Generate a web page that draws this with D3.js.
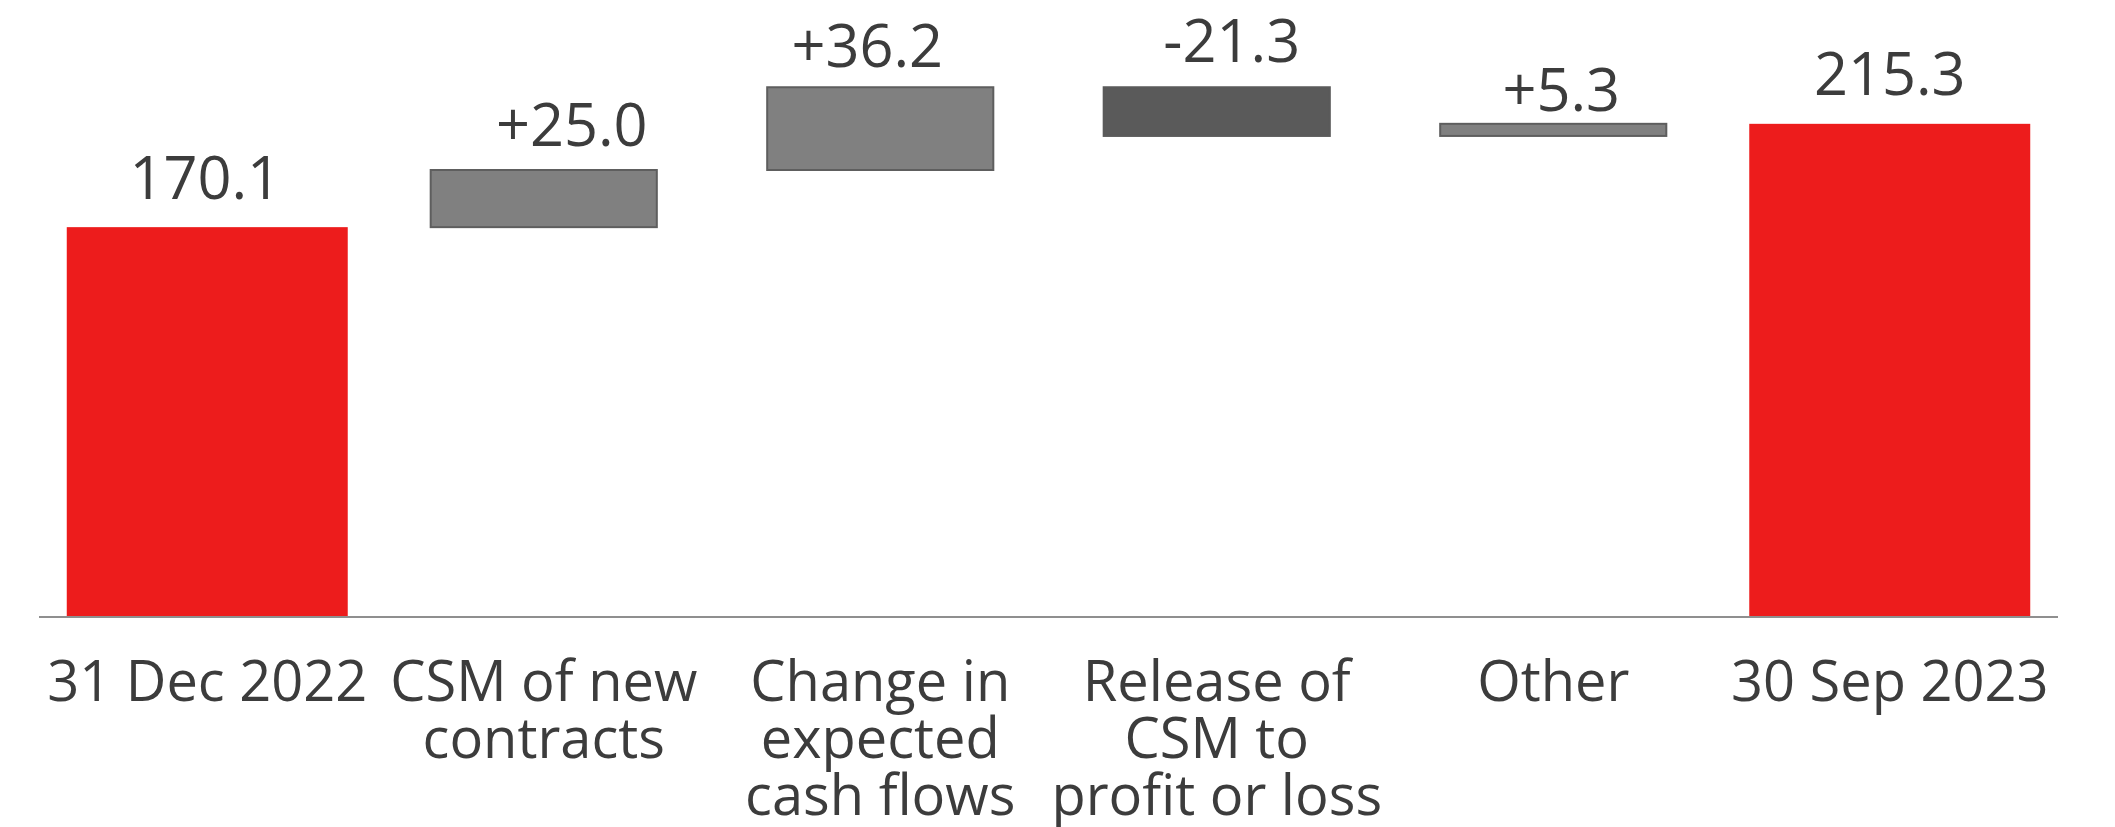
<!DOCTYPE html>
<html>
<head>
<meta charset="utf-8">
<script src="https://cdn.jsdelivr.net/npm/d3@7"></script>
<style>
  html, body { margin: 0; padding: 0; background: #ffffff; }
  svg { display: block; }
  text { font-family: "Open Sans", "Noto Sans", sans-serif; fill: #3c3c3c; }
</style>
</head>
<body>
<svg id="chart" width="2115" height="827"></svg>
<script>
// CSM roll-forward, 31 Dec 2022 to 30 Sep 2023
const categories = [
  ["31 Dec 2022"],
  ["CSM of new", "contracts"],
  ["Change in", "expected", "cash flows"],
  ["Release of", "CSM to", "profit or loss"],
  ["Other"],
  ["30 Sep 2023"]
];
const kinds = ["total", "delta", "delta", "delta", "delta", "total"];
const values = [170.1, 25.0, 36.2, -21.3, 5.3, 215.3];
const valueLabels = ["170.1", "+25.0", "+36.2", "-21.3", "+5.3", "215.3"];

const W = 2115, H = 827;
const svg = d3.select("#chart");

// Running totals give each step its floating start/end
let running = 0;
const steps = values.map((v, i) => {
  let start, end;
  if (kinds[i] === "total") { start = 0; end = v; running = v; }
  else { start = running; end = running + v; running = end; }
  return { i, kind: kinds[i], value: v, start, end, lo: Math.min(start, end), hi: Math.max(start, end) };
});

const x = d3.scaleBand()
  .domain(d3.range(categories.length))
  .range([39, 2058])
  .paddingInner(0).paddingOuter(0);

const y = d3.scaleLinear()
  .domain([0, 250])
  .range([616, 616 - 250 * 2.286]);

// Label placement tweaks (dx, gap above bar top)
const labelNudge = [[-2, 28], [28, 24], [-13, 20], [15, 25], [8, 13], [0, 29]];

const fillFor = d => d.kind === "total" ? "#ed1c1c" : (d.value < 0 ? "#5a5a5a" : "#808080");
const strokeFor = d => d.kind === "total" ? "none" : (d.value < 0 ? "#5a5a5a" : "#5e5e5e");

const barW = d => d.kind === "total" ? x.bandwidth() * 0.835 : x.bandwidth() * 0.672;

svg.append("g").selectAll("rect")
  .data(steps)
  .join("rect")
  .attr("x", d => x(d.i) + (x.bandwidth() - barW(d)) / 2)
  .attr("width", d => barW(d))
  .attr("y", d => y(d.hi))
  .attr("height", d => y(d.lo) - y(d.hi))
  .attr("fill", fillFor)
  .attr("stroke", strokeFor)
  .attr("stroke-width", 2);

// Baseline
svg.append("line")
  .attr("x1", x.range()[0]).attr("x2", x.range()[1])
  .attr("y1", y(0) + 1).attr("y2", y(0) + 1)
  .attr("stroke", "#8f8f8f")
  .attr("stroke-width", 2);

// Value labels
svg.append("g").selectAll("text")
  .data(steps)
  .join("text")
  .attr("x", d => x(d.i) + x.bandwidth() / 2 + labelNudge[d.i][0])
  .attr("y", d => y(d.hi) - labelNudge[d.i][1])
  .attr("text-anchor", "middle")
  .attr("font-size", 59.5)
  .text(d => valueLabels[d.i]);

// Category labels
const cat = svg.append("g").selectAll("text")
  .data(categories)
  .join("text")
  .attr("x", (d, i) => x(i) + x.bandwidth() / 2)
  .attr("y", 701)
  .attr("text-anchor", "middle")
  .attr("font-size", 56);
cat.selectAll("tspan")
  .data(d => d)
  .join("tspan")
  .attr("x", function() { return this.parentNode.getAttribute("x"); })
  .attr("dy", (d, j) => j === 0 ? 0 : 57)
  .text(d => d);
</script>
</body>
</html>
